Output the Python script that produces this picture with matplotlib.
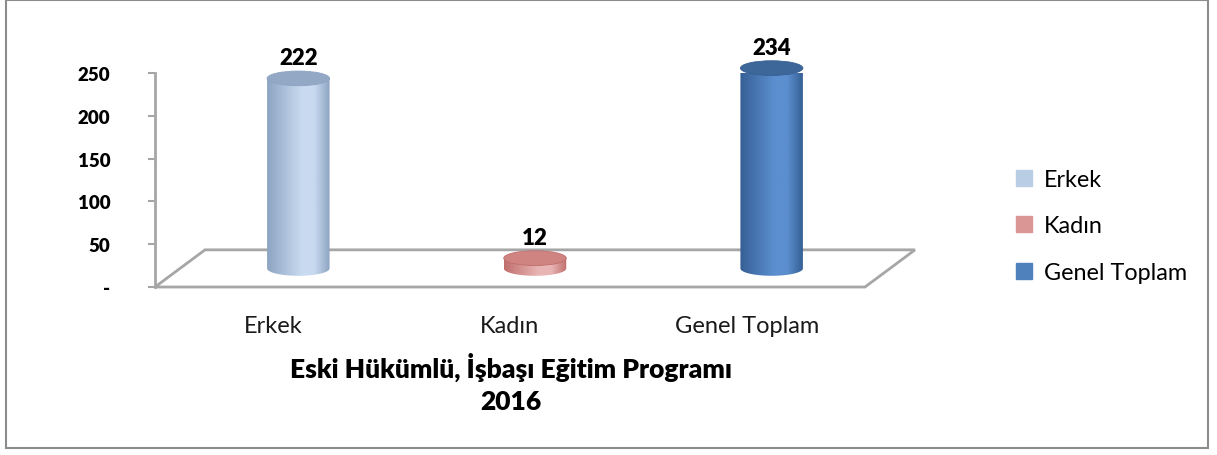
# 3D-style cylinder column chart, drawn by hand in 2D

import numpy as np
import matplotlib.pyplot as plt
import matplotlib.patches as patches
from matplotlib.colors import LinearSegmentedColormap
from matplotlib.lines import Line2D

plt.rcParams['font.family'] = ['Lato', 'DejaVu Sans']

categories = ["Erkek", "Kadın", "Genel Toplam"]
values = [222, 12, 234]
title_line1 = "Eski Hükümlü, İşbaşı Eğitim Programı"
title_line2 = "2016"
yticks = [0, 50, 100, 150, 200, 250]

# (dark edge, light middle, top ellipse)
colors = [("#8DA4C2", "#C8DAF0", "#93A8C4"),
          ("#C06F6D", "#E8B5B4", "#CF8482"),
          ("#355F95", "#5C8FCF", "#3D6699")]
legend_colors = ["#B9CDE5", "#D99694", "#4F81BD"]

W, H = 1217, 456
fig = plt.figure(figsize=(W / 100, H / 100), dpi=100)

# outer border
fig.patches.append(patches.Rectangle((6 / W, 7 / H), 1202 / W, 448 / H,
                                     transform=fig.transFigure, fill=False,
                                     edgecolor="#8C8C8C", lw=1.5))

ax = fig.add_axes([155 / W, (H - 288) / H, 710 / W, 214 / H])
ax.set_xlim(-0.5, 2.5)
ax.set_ylim(0, 250)
ax.patch.set_visible(False)
for s in ["top", "right", "bottom"]:
    ax.spines[s].set_visible(False)
ax.spines["left"].set_color("#A6A6A6")
ax.spines["left"].set_linewidth(2)

ax.set_yticks(yticks)
ax.set_yticklabels(["-" if t == 0 else str(t) for t in yticks],
                   fontweight="heavy", fontsize=13.5)
ax.tick_params(axis="y", length=5, width=1.5, color="#A6A6A6", pad=27)
ax.set_xticks(range(len(categories)))
ax.set_xticklabels(categories, fontsize=17, color="#1A1A1A")
ax.tick_params(axis="x", length=0, pad=20)

# depth of the 3D floor in data units
dx = 50 / 236.7
dy = 43.4

floor = patches.Polygon([(-0.5, 0), (2.5, 0), (2.5 + dx, dy), (-0.5 + dx, dy)],
                        closed=True, fill=False, edgecolor="#A6A6A6", lw=2,
                        clip_on=False, zorder=1)
ax.add_patch(floor)

w = 0.132   # half width of a cylinder
eh = 8.6    # half height of the ellipse
grad = np.linspace(0, 1, 256).reshape(1, -1)

for i, v in enumerate(values):
    cx = i + dx / 2
    y0 = dy / 2
    y1 = y0 + v
    dark, light, top = colors[i]
    cmap = LinearSegmentedColormap.from_list(
        "c%d" % i, [(0, dark), (0.55, light), (0.75, light), (1, dark)])
    th = np.linspace(0, -np.pi, 60)
    body = [(cx - w, y1), (cx + w, y1)] + \
        list(zip(cx + w * np.cos(th), y0 + eh * np.sin(th)))
    poly = patches.Polygon(body, closed=True, facecolor="none",
                           edgecolor="none", clip_on=False)
    ax.add_patch(poly)
    im = ax.imshow(grad, cmap=cmap, aspect="auto",
                   extent=(cx - w, cx + w, y0 - eh, y1), zorder=2)
    im.set_clip_path(poly)
    ax.add_patch(patches.Ellipse((cx, y1), 2 * w, 2 * eh,
                                 facecolor=top, edgecolor=dark, lw=0.6,
                                 zorder=3, clip_on=False))
    ax.annotate(str(v), (cx, y1 + eh), xytext=(0, 2), textcoords="offset points",
                ha="center", va="bottom", fontweight="heavy", fontsize=16,
                annotation_clip=False)

ax.set_xlim(-0.5, 2.5)
ax.set_ylim(0, 250)

handles = [Line2D([], [], marker="s", ls="none", markersize=11,
                  markerfacecolor=c, markeredgecolor=c) for c in legend_colors]
fig.legend(handles, categories, loc="center left",
           bbox_to_anchor=(1003 / W, 1 - 227 / H), frameon=False,
           fontsize=16.8, handlelength=0.8, handletextpad=0.45,
           labelspacing=1.1, borderpad=0)

fig.text(511 / W, 1 - 367 / H, title_line1, ha="center", va="center",
         fontweight="heavy", fontsize=19)
fig.text(511 / W, 1 - 402 / H, title_line2, ha="center", va="center",
         fontweight="heavy", fontsize=19)

fig.savefig("out.png", dpi=100)
